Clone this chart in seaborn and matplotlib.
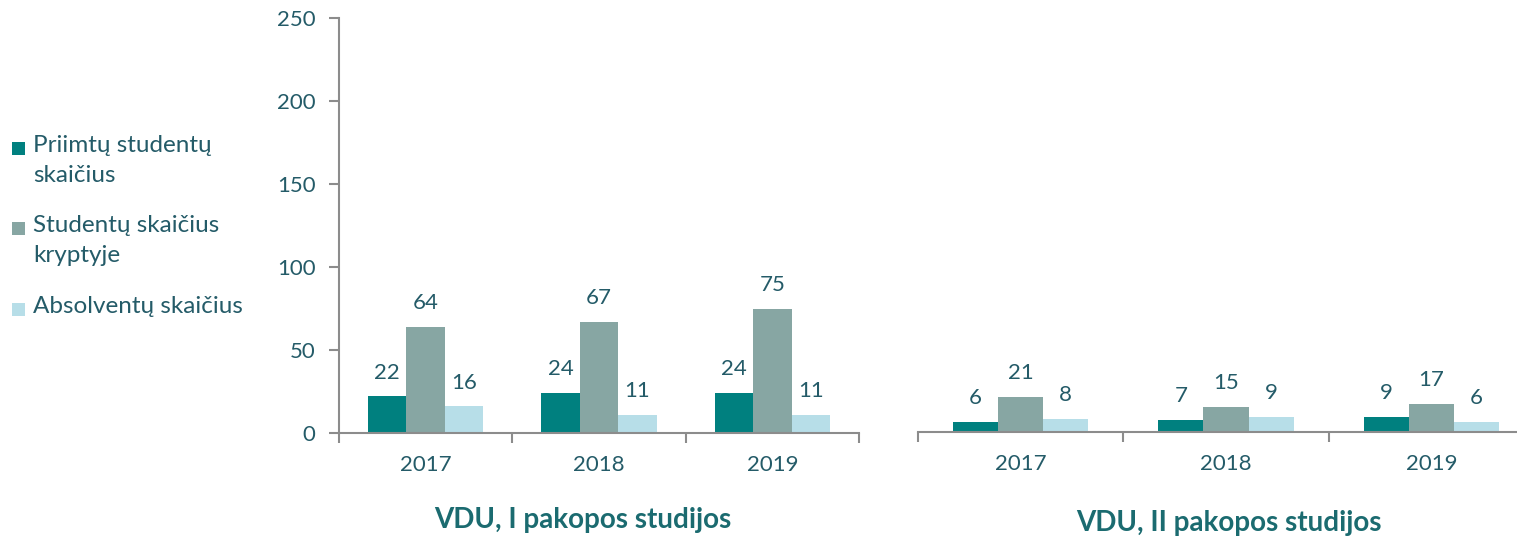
import matplotlib
matplotlib.use("Agg")
import matplotlib.pyplot as plt
from matplotlib.patches import Rectangle
import seaborn as sns
import pandas as pd

years = ["2017", "2018", "2019"]
series = ["Priimtų studentų\nskaičius", "Studentų skaičius\nkryptyje", "Absolventų skaičius"]
first_cycle = {
    series[0]: [22, 24, 24],
    series[1]: [64, 67, 75],
    series[2]: [16, 11, 11],
}
second_cycle = {
    series[0]: [6, 7, 9],
    series[1]: [21, 15, 17],
    series[2]: [8, 9, 6],
}
panel_titles = ["VDU, I pakopos studijos", "VDU, II pakopos studijos"]
yticks = [0, 50, 100, 150, 200, 250]
colors = ["#00807F", "#87A6A3", "#B7DEE8"]

sns.set_theme(style="white")
plt.rcParams["font.family"] = ["Lato", "DejaVu Sans"]

TEXT = "#245B68"
TITLE = "#1B6B70"
AXC = "#8C8C8C"
FS = 16

def to_df(d):
    rows = []
    for s, vals in d.items():
        for y, v in zip(years, vals):
            rows.append({"year": y, "series": s, "value": v})
    return pd.DataFrame(rows)

W, H = 1517, 540
fig = plt.figure(figsize=(W / 100, H / 100), dpi=100)
axL = fig.add_axes([339 / W, 1 - 433 / H, (859 - 339) / W, (433 - 18) / H])
axR = fig.add_axes([918 / W, 1 - 432 / H, (1534 - 918) / W, (433 - 18) / H])

for ax, data, width, title, ty, cx in [
    (axL, first_cycle, 0.665, panel_titles[0], 520, 583),
    (axR, second_cycle, 0.66, panel_titles[1], 523, 1229),
]:
    sns.barplot(data=to_df(data), x="year", y="value", hue="series", hue_order=series,
                palette=colors, width=width, saturation=1, legend=False, ax=ax,
                linewidth=0, edgecolor="none")
    for c in ax.containers:
        ax.bar_label(c, padding=10, fontsize=FS, color=TEXT)
    ax.set_ylim(0, 250)
    ax.set_xlim(-0.5, 2.5)
    ax.set_xlabel("")
    ax.set_ylabel("")
    for s in ["top", "right"]:
        ax.spines[s].set_visible(False)
    ax.spines["bottom"].set_color(AXC)
    ax.spines["bottom"].set_linewidth(1.5)
    ax.set_xticks([0, 1, 2])
    ax.set_xticklabels(years, fontsize=FS, color=TEXT)
    ax.tick_params(axis="x", which="major", length=0, pad=16)
    ax.set_xticks([-0.5, 0.5, 1.5, 2.5], minor=True)
    ax.tick_params(axis="x", which="minor", length=7, width=1.5, color=AXC, direction="out",
                   bottom=True)
    fig.text(cx / W, 1 - ty / H, title, ha="center", va="center",
             fontsize=20, fontweight="bold", color=TITLE)

axL.set_yticks(yticks)
axL.set_yticklabels([str(v) for v in yticks], fontsize=FS, color=TEXT)
axL.tick_params(axis="y", length=7, width=1.5, color=AXC, direction="out", left=True, pad=10)
axL.spines["left"].set_color(AXC)
axL.spines["left"].set_linewidth(1.5)

axR.spines["left"].set_visible(False)
axR.set_yticks([])

# legend
leg_items = [(148, series[0]), (228, series[1]), (309, series[2])]
for (yc, lab), col in zip(leg_items, colors):
    fig.patches.append(Rectangle((12 / W, 1 - (yc + 7) / H), 13 / W, 13 / H,
                                 transform=fig.transFigure, facecolor=col, edgecolor="none"))
    fig.text(33 / W, 1 - (yc - 13) / H, lab, ha="left", va="top", fontsize=17.5,
             color=TEXT, linespacing=1.5)

fig.savefig("out.png", dpi=100)
